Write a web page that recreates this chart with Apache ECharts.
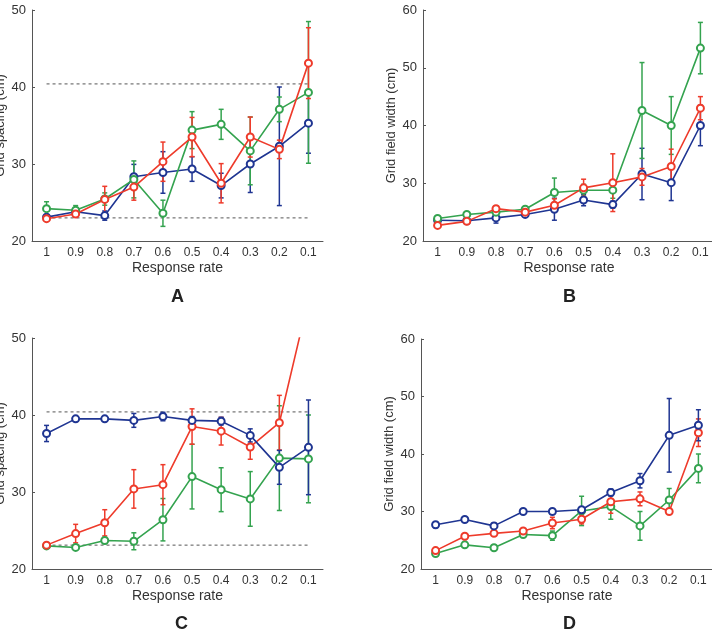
<!DOCTYPE html>
<html>
<head>
<meta charset="utf-8">
<script src="https://cdn.jsdelivr.net/npm/echarts@6/dist/echarts.min.js"></script>
<style>
  html, body { margin: 0; padding: 0; background: #fff; }
  #main { width: 712px; height: 629px; }
</style>
</head>
<body>
<div id="main"></div>
<script>
// response rate categories
var categories = ['1', '0.9', '0.8', '0.7', '0.6', '0.5', '0.4', '0.3', '0.2', '0.1'];

// panel A - grid spacing
var blueA = [23.1, 23.8, 23.3, 28.35, 28.9, 29.35, 27.2, 30.0, 32.3, 35.3];
var blueAErr = [0.3, 0.3, 0.6, 1.6, 2.7, 1.6, 1.6, 3.7, 7.7, 3.9];
var greenA = [24.2, 24.0, 25.45, 28.0, 23.6, 34.4, 35.15, 31.7, 37.1, 39.3];
var greenAErr = [0.9, 0.6, 0.8, 2.4, 1.7, 2.4, 1.95, 4.4, 1.6, 9.2];
var redA = [22.9, 23.5, 25.4, 27.0, 30.3, 33.5, 27.5, 33.5, 31.9, 43.1];
var redAErr = [0.3, 0.4, 1.7, 1.7, 2.55, 2.55, 2.55, 2.6, 1.2, 4.6];
var refA = [40.4, 23.0];

// panel B - grid field width
var blueB = [23.6, 23.5, 24.0, 24.6, 25.5, 27.1, 26.3, 31.6, 30.1, 40.0];
var blueBErr = [0.3, 0.3, 0.9, 0.5, 1.9, 1.0, 0.6, 4.45, 3.1, 3.5];
var greenB = [23.9, 24.6, 25.0, 25.5, 28.4, 28.8, 28.8, 42.6, 40.0, 53.4];
var greenBErr = [0.3, 0.3, 0.4, 0.4, 2.5, 1.0, 1.4, 8.3, 5.0, 4.45];
var redB = [22.7, 23.4, 25.6, 25.0, 26.2, 29.2, 30.1, 31.1, 32.9, 43.0];
var redBErr = [0.4, 0.4, 0.5, 0.4, 1.1, 1.5, 5.0, 1.45, 3.0, 2.0];

// panel C - grid spacing
var blueC = [37.6, 39.5, 39.5, 39.3, 39.8, 39.3, 39.2, 37.35, 33.2, 35.8];
var blueCErr = [1.05, 0.2, 0.3, 0.9, 0.55, 0.5, 0.5, 0.85, 2.2, 6.15];
var greenC = [23.0, 22.8, 23.7, 23.6, 26.4, 32.0, 30.3, 29.1, 34.4, 34.3];
var greenCErr = [0.2, 0.2, 0.4, 1.1, 2.75, 4.2, 2.85, 3.55, 6.8, 5.7];
var redC = [23.1, 24.6, 26.0, 30.4, 30.95, 38.5, 37.9, 35.85, 39.0, 55.0];
var redCErr = [0.2, 1.2, 1.7, 2.5, 2.6, 2.3, 1.8, 1.6, 3.55, null];
var refC = [40.4, 23.1];

// panel D - grid field width
var blueD = [27.7, 28.6, 27.5, 30.0, 30.0, 30.3, 33.3, 35.35, 43.25, 45.0];
var blueDErr = [0.5, 0.4, 0.5, 0.3, 0.3, 0.3, 0.6, 1.25, 6.4, 2.7];
var greenD = [22.7, 24.2, 23.7, 26.0, 25.8, 30.1, 30.85, 27.5, 32.0, 37.5];
var greenDErr = [0.4, 0.4, 0.4, 0.5, 0.8, 2.55, 2.2, 2.5, 2.0, 2.5];
var redD = [23.2, 25.7, 26.2, 26.6, 28.0, 28.65, 31.7, 32.2, 30.0, 43.7];
var redDErr = [0.3, 0.3, 0.4, 0.4, 1.0, 0.8, 2.0, 1.2, 0.2, 2.4];

var BLUE = '#1f3592';
var GREEN = '#34a34f';
var RED = '#ee3b2b';

function lineSeries(data, color, gi) {
    return {
        type: 'line',
        xAxisIndex: gi,
        yAxisIndex: gi,
        data: data,
        symbol: 'emptyCircle',
        symbolSize: 7,
        clip: true,
        lineStyle: {color: color, width: 1.6},
        itemStyle: {color: color, borderColor: color, borderWidth: 1.5},
        z: 3
    };
}

function errSeries(mean, err, color, gi) {
    var d = [];
    for (var i = 0; i < mean.length; i++) {
        if (err[i] == null) continue;
        d.push([i, mean[i] - err[i], mean[i] + err[i]]);
    }
    return {
        type: 'custom',
        xAxisIndex: gi,
        yAxisIndex: gi,
        clip: true,
        data: d,
        encode: {x: 0, y: [1, 2]},
        renderItem: function (params, api) {
            var lo = api.coord([api.value(0), api.value(1)]);
            var hi = api.coord([api.value(0), api.value(2)]);
            var w = 2.5;
            var st = {stroke: color, lineWidth: 1.5};
            return {
                type: 'group',
                children: [
                    {type: 'line', shape: {x1: lo[0], y1: lo[1], x2: hi[0], y2: hi[1]}, style: st},
                    {type: 'line', shape: {x1: lo[0] - w, y1: lo[1], x2: lo[0] + w, y2: lo[1]}, style: st},
                    {type: 'line', shape: {x1: hi[0] - w, y1: hi[1], x2: hi[0] + w, y2: hi[1]}, style: st}
                ]
            };
        },
        z: 3
    };
}

// dashed reference level across the whole range
function refSeries(level, gi) {
    return {
        type: 'line',
        xAxisIndex: gi,
        yAxisIndex: gi,
        data: categories.map(function () { return level; }),
        symbol: 'none',
        silent: true,
        lineStyle: {color: '#555', width: 1, type: [3, 3]},
        z: 1
    };
}

function xAx(gi) {
    return {
        type: 'category',
        gridIndex: gi,
        data: categories,
        boundaryGap: true,
        name: 'Response rate',
        nameLocation: 'middle',
        nameGap: 20,
        nameTextStyle: {fontSize: 14, color: '#333', fontFamily: 'Liberation Sans'},
        axisLine: {lineStyle: {color: '#555'}},
        axisTick: {inside: true, alignWithLabel: true, length: 3, lineStyle: {color: '#555'}},
        axisLabel: {fontSize: 12, color: '#333', margin: 6, fontFamily: 'Liberation Sans'},
        splitLine: {show: false}
    };
}

function yAx(gi, name, max) {
    return {
        type: 'value',
        gridIndex: gi,
        min: 20,
        max: max,
        interval: 10,
        name: name,
        nameLocation: 'middle',
        nameGap: 25,
        nameTextStyle: {fontSize: 13, color: '#333', fontFamily: 'Liberation Sans'},
        axisLine: {show: true, lineStyle: {color: '#555'}},
        axisTick: {show: true, inside: true, length: 3, lineStyle: {color: '#555'}},
        axisLabel: {fontSize: 13, color: '#333', margin: 6, fontFamily: 'Liberation Sans'},
        splitLine: {show: false}
    };
}

var myChart = echarts.init(document.getElementById('main'));

var letterStyle = {fontSize: 18, fontWeight: 'bold', color: '#222', fontFamily: 'Liberation Sans'};

var option = {
    backgroundColor: '#fff',
    animation: false,
    title: [
        {text: 'A', left: 166, top: 283, textStyle: letterStyle},
        {text: 'B', left: 558, top: 283, textStyle: letterStyle},
        {text: 'C', left: 170, top: 610, textStyle: letterStyle},
        {text: 'D', left: 558, top: 610, textStyle: letterStyle}
    ],
    grid: [
        {left: 32, top: 10, width: 291, height: 231, outerBoundsMode: 'none'},
        {left: 423, top: 10, width: 292, height: 231, outerBoundsMode: 'none'},
        {left: 32, top: 338, width: 291, height: 231, outerBoundsMode: 'none'},
        {left: 421, top: 339, width: 292, height: 230, outerBoundsMode: 'none'}
    ],
    xAxis: [xAx(0), xAx(1), xAx(2), xAx(3)],
    yAxis: [
        yAx(0, 'Grid spacing (cm)', 50),
        yAx(1, 'Grid field width (cm)', 60),
        yAx(2, 'Grid spacing (cm)', 50),
        yAx(3, 'Grid field width (cm)', 60)
    ],
    series: [
        refSeries(refA[0], 0), refSeries(refA[1], 0),
        errSeries(blueA, blueAErr, BLUE, 0), lineSeries(blueA, BLUE, 0),
        errSeries(greenA, greenAErr, GREEN, 0), lineSeries(greenA, GREEN, 0),
        errSeries(redA, redAErr, RED, 0), lineSeries(redA, RED, 0),

        errSeries(blueB, blueBErr, BLUE, 1), lineSeries(blueB, BLUE, 1),
        errSeries(greenB, greenBErr, GREEN, 1), lineSeries(greenB, GREEN, 1),
        errSeries(redB, redBErr, RED, 1), lineSeries(redB, RED, 1),

        refSeries(refC[0], 2), refSeries(refC[1], 2),
        errSeries(greenC, greenCErr, GREEN, 2), lineSeries(greenC, GREEN, 2),
        errSeries(redC, redCErr, RED, 2), lineSeries(redC, RED, 2),
        errSeries(blueC, blueCErr, BLUE, 2), lineSeries(blueC, BLUE, 2),

        errSeries(greenD, greenDErr, GREEN, 3), lineSeries(greenD, GREEN, 3),
        errSeries(redD, redDErr, RED, 3), lineSeries(redD, RED, 3),
        errSeries(blueD, blueDErr, BLUE, 3), lineSeries(blueD, BLUE, 3)
    ]
};

myChart.setOption(option);
</script>
</body>
</html>
